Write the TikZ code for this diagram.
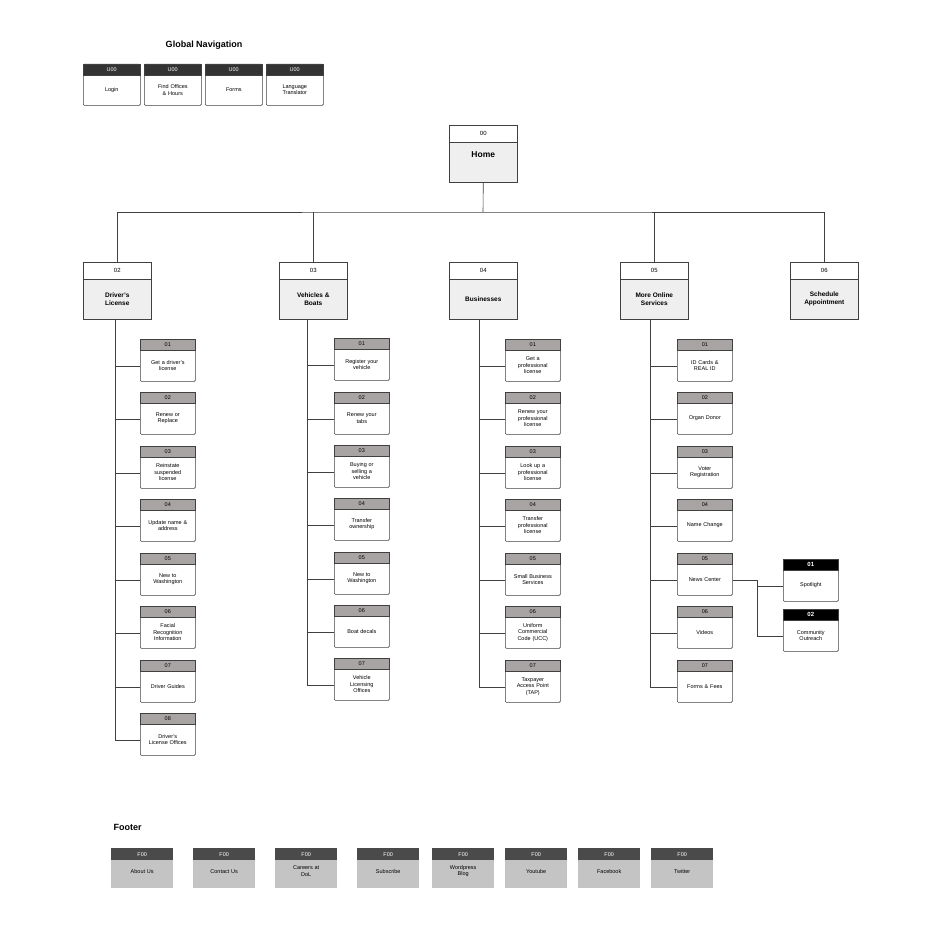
\documentclass[tikz,border=0pt]{standalone}
\usepackage{fontspec}
\setmainfont{Liberation Sans}
\usepackage{tikz}
\pgfdeclarelayer{edgelayer}
\pgfdeclarelayer{nodelayer}
\pgfsetlayers{edgelayer,main,nodelayer}
\definecolor{headgray}{HTML}{A9A4A4}
\definecolor{navdark}{HTML}{333333}
\definecolor{footdark}{HTML}{4A4A4A}
\definecolor{footgray}{HTML}{C4C4C4}
\definecolor{topgray}{HTML}{EFEFEF}
\tikzstyle{childbody}=[draw=black!75, fill=white, line width=0.6pt, rounded corners=1pt, minimum width=55pt, minimum height=42pt, inner sep=0pt, anchor=north west]
\tikzstyle{childhead}=[draw=black!75, fill=headgray, line width=0.6pt, minimum width=55pt, minimum height=11pt, inner sep=2pt, anchor=north west, font=\fontsize{5.5}{6}\selectfont, text depth=0pt]
\tikzstyle{subhead}=[childhead, fill=black, text=white, font=\bfseries\fontsize{6}{6}\selectfont]
\tikzstyle{cardtext}=[align=center, text width=52pt, font=\fontsize{5.5}{6.5}\selectfont, inner sep=0pt]
\tikzstyle{topbody}=[draw=black!75, fill=topgray, line width=0.6pt, minimum width=68pt, minimum height=57pt, inner sep=0pt, anchor=north west]
\tikzstyle{tophead}=[draw=black!75, fill=white, line width=0.6pt, minimum width=68pt, minimum height=17pt, inner sep=3pt, anchor=north west, font=\fontsize{6}{6}\selectfont]
\tikzstyle{toptext}=[align=center, font=\bfseries\fontsize{6.5}{8}\selectfont]
\tikzstyle{navbody}=[draw=black!75, fill=white, line width=0.6pt, rounded corners=1pt, minimum width=57pt, minimum height=41pt, inner sep=0pt, anchor=north west]
\tikzstyle{navhead}=[draw=black!75, fill=navdark, text=white, minimum width=57pt, minimum height=11pt, inner sep=2pt, anchor=north west, font=\fontsize{5.5}{6}\selectfont]
\tikzstyle{footbody}=[fill=footgray, minimum width=62pt, minimum height=40pt, inner sep=0pt, anchor=north west]
\tikzstyle{foothead}=[fill=footdark, text=white, minimum width=62pt, minimum height=12pt, inner sep=2pt, anchor=north west, font=\fontsize{5.5}{6}\selectfont]
\tikzstyle{edge}=[draw=black!75, line width=0.6pt]
% card macros: name, x, y, number, text
\newcommand{\childbox}[6][childhead]{%
  \node[childbody] (#2) at (#3,#4) {};
  \node[#1] (#2h) at (#3,#4) {#5};
  \node[cardtext] (#2t) at ([yshift=-5pt]#2.center) {#6};
  \coordinate (#2in) at ([yshift=-6pt]#2.west);
}
\newcommand{\topbox}[5]{%
  \node[topbody] (#1) at (#2,#3) {};
  \node[tophead] (#1h) at (#2,#3) {#4};
  \node[toptext] (#1t) at ([yshift=-8pt]#1.center) {#5};
}
\newcommand{\navbox}[4]{%
  \node[navbody] (#1) at (#2,#3) {};
  \node[navhead] (#1h) at (#2,#3) {U00};
  \node[cardtext] (#1t) at ([yshift=-5pt]#1.center) {#4};
}
\newcommand{\footbox}[4]{%
  \node[footbody] (#1) at (#2,#3) {};
  \node[foothead] (#1h) at (#2,#3) {F00};
  \node[cardtext] (#1t) at ([yshift=-3pt]#1.center) {#4};
}
\begin{document}
\begin{tikzpicture}[x=1pt, y=-1pt]
	\useasboundingbox (0,0) rectangle (935,942);
	\begin{pgfonlayer}{nodelayer}

	%global navigation
		\node [font=\bfseries\fontsize{9}{10}\selectfont] (navtitle) at (204,45) {Global Navigation};
		\navbox{login}{83}{64}{Login}
		\navbox{offices}{144}{64}{Find Offices\\\& Hours}
		\navbox{forms}{205}{64}{Forms}
		\navbox{translator}{266}{64}{Language\\Translator}

	%home and sections
		\node [topbody] (home) at (449,125) {};
		\node [tophead] (homeh) at (449,125) {00};
		\node [font=\bfseries\fontsize{8.5}{10}\selectfont] (homet) at ([yshift=-1pt]home.center) {Home};
		\topbox{license}{83}{262}{02}{Driver's\\License}
		\topbox{vehicles}{279}{262}{03}{Vehicles \&\\Boats}
		\topbox{business}{449}{262}{04}{Businesses}
		\topbox{online}{620}{262}{05}{More Online\\Services}
		\topbox{schedule}{790}{262}{06}{Schedule\\Appointment}

	%driver's license
		\childbox{dl1}{140}{339}{01}{Get a driver's\\license}
		\childbox{dl2}{140}{392}{02}{Renew or\\Replace}
		\childbox{dl3}{140}{446}{03}{Reinstate\\suspended\\license}
		\childbox{dl4}{140}{499}{04}{Update name \&\\address}
		\childbox{dl5}{140}{553}{05}{New to\\Washington}
		\childbox{dl6}{140}{606}{06}{Facial\\Recognition\\Information}
		\childbox{dl7}{140}{660}{07}{Driver Guides}
		\childbox{dl8}{140}{713}{08}{Driver's\\License Offices}

	%vehicles and boats
		\childbox{vb1}{334}{338}{01}{Register your\\vehicle}
		\childbox{vb2}{334}{392}{02}{Renew your\\tabs}
		\childbox{vb3}{334}{445}{03}{Buying or\\selling a\\vehicle}
		\childbox{vb4}{334}{498}{04}{Transfer\\ownership}
		\childbox{vb5}{334}{552}{05}{New to\\Washington}
		\childbox{vb6}{334}{605}{06}{Boat decals}
		\childbox{vb7}{334}{658}{07}{Vehicle\\Licensing\\Offices}

	%businesses
		\childbox{bu1}{505}{339}{01}{Get a\\professional\\license}
		\childbox{bu2}{505}{392}{02}{Renew your\\professional\\license}
		\childbox{bu3}{505}{446}{03}{Look up a\\professional\\license}
		\childbox{bu4}{505}{499}{04}{Transfer\\professional\\license}
		\childbox{bu5}{505}{553}{05}{Small Business\\Services}
		\childbox{bu6}{505}{606}{06}{Uniform\\Commercial\\Code (UCC)}
		\childbox{bu7}{505}{660}{07}{Taxpayer\\Access Point\\(TAP)}

	%more online services
		\childbox{os1}{677}{339}{01}{ID Cards \&\\REAL ID}
		\childbox{os2}{677}{392}{02}{Organ Donor}
		\childbox{os3}{677}{446}{03}{Voter\\Registration}
		\childbox{os4}{677}{499}{04}{Name Change}
		\childbox{os5}{677}{553}{05}{News Center}
		\childbox{os6}{677}{606}{06}{Videos}
		\childbox{os7}{677}{660}{07}{Forms \& Fees}
		\childbox[subhead]{news1}{783}{559}{01}{Spotlight}
		\childbox[subhead]{news2}{783}{609}{02}{Community\\Outreach}

	%footer
		\node [anchor=west, font=\bfseries\fontsize{9}{10}\selectfont] (foottitle) at (110,827) {Footer};
		\footbox{about}{111}{848}{About Us}
		\footbox{contact}{193}{848}{Contact Us}
		\footbox{careers}{275}{848}{Careers at\\DoL}
		\footbox{subscribe}{357}{848}{Subscribe}
		\footbox{blog}{432}{848}{Wordpress\\Blog}
		\footbox{youtube}{505}{848}{Youtube}
		\footbox{facebook}{578}{848}{Facebook}
		\footbox{twitter}{651}{848}{Twitter}

	\end{pgfonlayer}
	\begin{pgfonlayer}{edgelayer}

		%home to sections
		\coordinate (bus) at (483,212);
		\draw [edge] (home.south) -- (bus);
		\draw [edge] (license.north) |- (bus) -| (schedule.north);
		\draw [edge] (vehicles.north) -- (vehicles.north |- bus);
		\draw [edge] (online.north) -- (online.north |- bus);

		%section trunks
		\foreach \sec/\kid/\n/\dx in {license/dl/8/-2, vehicles/vb/7/-6, business/bu/7/-4, online/os/7/-4} {
			\coordinate (\sec trunk) at ([xshift=\dx pt]\sec.south);
			\draw [edge] (\sec trunk) |- (\kid\n in);
			\foreach \i in {1,...,\n} {
				\draw [edge] (\kid\i in) -- (\kid\i in -| \sec trunk);
			}
		}

		%news center
		\coordinate (newsfork) at (757,580);
		\draw [edge] (os5.east |- newsfork) -- (newsfork) |- (news2in);
		\draw [edge] (newsfork) |- (news1in);

	\end{pgfonlayer}
\end{tikzpicture}
\end{document}
